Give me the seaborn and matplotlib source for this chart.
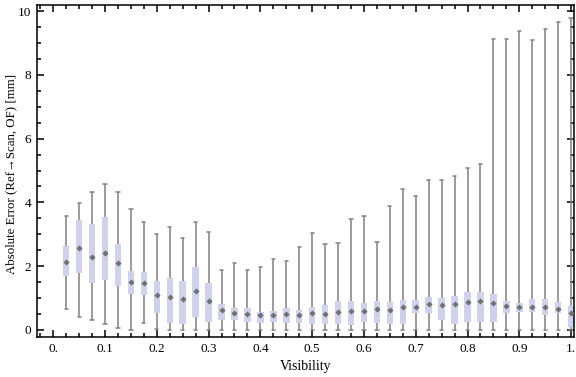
import numpy as np
import pandas as pd
import matplotlib
matplotlib.use('Agg')
import matplotlib.pyplot as plt
from matplotlib.ticker import MultipleLocator, FixedLocator
import seaborn as sns

# box positions (visibility) and five-number summaries
visibility = [0.025, 0.05, 0.075, 0.1, 0.125, 0.15, 0.175, 0.2, 0.225, 0.25,
              0.275, 0.3, 0.325, 0.35, 0.375, 0.4, 0.425, 0.45, 0.475, 0.5,
              0.525, 0.55, 0.575, 0.6, 0.625, 0.65, 0.675, 0.7, 0.725, 0.75,
              0.775, 0.8, 0.825, 0.85, 0.875, 0.9, 0.925, 0.95, 0.975, 1.0]
low = [0.65, 0.40, 0.32, 0.18, 0.05, 0.0, 0.21, 0.03, 0.0, 0.0,
       0.0, 0.0, 0.0, 0.0, 0.0, 0.0, 0.0, 0.0, 0.0, 0.0,
       0.0, 0.0, 0.0, 0.0, 0.0, 0.0, 0.0, 0.0, 0.0, 0.0,
       0.0, 0.0, 0.0, 0.0, 0.0, 0.0, 0.0, 0.0, 0.0, 0.0]
q1 = [1.70, 1.80, 1.46, 1.57, 1.39, 1.12, 1.11, 0.54, 0.23, 0.20,
      0.42, 0.26, 0.32, 0.32, 0.26, 0.23, 0.26, 0.23, 0.23, 0.20,
      0.20, 0.20, 0.17, 0.26, 0.23, 0.20, 0.20, 0.52, 0.52, 0.32,
      0.20, 0.26, 0.26, 0.26, 0.52, 0.55, 0.55, 0.46, 0.52, 0.10]
median = [2.14, 2.56, 2.30, 2.42, 2.09, 1.49, 1.46, 1.10, 1.04, 0.96,
          1.21, 0.92, 0.64, 0.52, 0.49, 0.47, 0.47, 0.49, 0.46, 0.52,
          0.51, 0.55, 0.60, 0.60, 0.66, 0.62, 0.71, 0.71, 0.82, 0.78,
          0.82, 0.89, 0.92, 0.86, 0.76, 0.71, 0.73, 0.71, 0.67, 0.53]
q3 = [2.62, 3.45, 3.32, 3.53, 2.70, 1.84, 1.81, 1.54, 1.63, 1.54,
      1.97, 1.46, 0.80, 0.69, 0.69, 0.56, 0.60, 0.69, 0.63, 0.72,
      0.78, 0.91, 0.91, 0.85, 0.91, 0.88, 0.94, 0.94, 1.03, 1.00,
      1.07, 1.19, 1.19, 1.13, 0.91, 0.85, 0.97, 0.97, 0.88, 0.75]
high = [3.58, 3.97, 4.32, 4.58, 4.32, 3.78, 3.39, 3.00, 3.22, 2.87,
        3.39, 3.06, 1.87, 2.09, 1.87, 1.96, 2.22, 2.15, 2.59, 3.03,
        2.69, 2.72, 3.47, 3.56, 2.75, 3.88, 4.41, 4.21, 4.69, 4.69,
        4.82, 5.07, 5.22, 9.14, 9.11, 9.36, 9.08, 9.43, 9.65, 9.77]

x_ticks = [0.0, 0.1, 0.2, 0.3, 0.4, 0.5, 0.6, 0.7, 0.8, 0.9, 1.0]
x_tick_labels = ['0.', '0.1', '0.2', '0.3', '0.4', '0.5', '0.6', '0.7', '0.8', '0.9', '1.']

# long table: each box gets its five summary values
rows = []
for i, v in enumerate(visibility):
    for val in (low[i], q1[i], median[i], q3[i], high[i]):
        rows.append({'Visibility': v, 'Error': val})
df = pd.DataFrame(rows)

sns.set_style('ticks')
plt.rcParams['font.family'] = ['Liberation Serif', 'DejaVu Serif']
plt.rcParams['xtick.direction'] = 'in'
plt.rcParams['ytick.direction'] = 'in'
plt.rcParams['text.color'] = 'black'
plt.rcParams['axes.labelcolor'] = 'black'
plt.rcParams['xtick.color'] = 'black'
plt.rcParams['ytick.color'] = 'black'

box_color = '#c8cef4'
line_color = '#808080'

fig = plt.figure(figsize=(5.76, 3.77), dpi=100)
ax = fig.add_axes([0.0637, 0.1053, 0.9335, 0.8822])

sns.boxplot(data=df, x='Visibility', y='Error', orient='x', native_scale=True,
            whis=(0, 100), width=0.5, color=box_color, linecolor=line_color,
            linewidth=1.1, fliersize=0, ax=ax,
            boxprops=dict(edgecolor='none'),
            medianprops=dict(linewidth=0))

sns.scatterplot(x=visibility, y=median, marker='D', s=10, color='#707070',
                linewidth=0, ax=ax, zorder=5)

ax.set_xlim(-0.032, 1.0064)
ax.set_ylim(-0.23, 10.2)
ax.xaxis.set_major_locator(FixedLocator(x_ticks))
ax.set_xticklabels(x_tick_labels)
ax.xaxis.set_minor_locator(MultipleLocator(0.025))
ax.yaxis.set_major_locator(MultipleLocator(2))
ax.yaxis.set_minor_locator(MultipleLocator(0.5))
ax.tick_params(which='both', top=True, right=True, direction='in',
               labelsize=9.5, width=1.1, color='black', labelcolor='black', pad=4)
ax.tick_params(which='major', length=5)
ax.tick_params(which='minor', length=3)
for s in ax.spines.values():
    s.set_color('black')
    s.set_linewidth(1.1)

ax.set_xlabel('Visibility', fontsize=10, labelpad=4, color='black')
ax.set_ylabel('Absolute Error (Ref\u2192Scan, OF) [mm]', fontsize=9.3, color='black')
ax.yaxis.set_label_coords(-0.036, 0.49)

fig.savefig('out.png', dpi=100)
